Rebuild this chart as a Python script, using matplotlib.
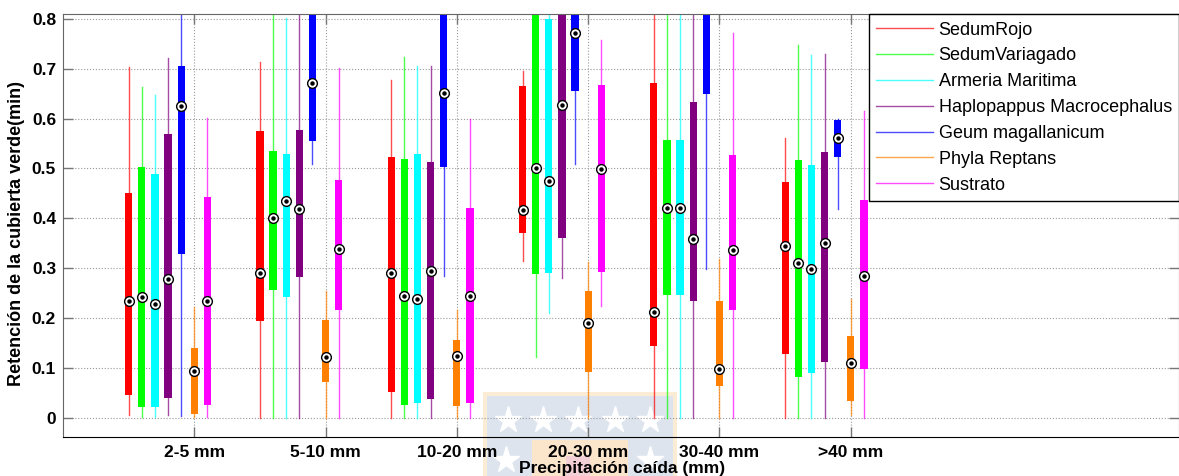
import numpy as np
import matplotlib
matplotlib.use("Agg")
import matplotlib.pyplot as plt
from matplotlib.lines import Line2D
from matplotlib.patches import Rectangle

plt.rcParams['font.family'] = ['Liberation Sans', 'DejaVu Sans']

groups = ["2-5 mm", "5-10 mm", "10-20 mm", "20-30 mm", "30-40 mm", ">40 mm"]
species = ["SedumRojo", "SedumVariagado", "Armeria Maritima", "Haplopappus Macrocephalus",
           "Geum magallanicum", "Phyla Reptans", "Sustrato"]
colors = ["#ff0000", "#00ff00", "#00ffff", "#800080", "#0000ff", "#ff8000", "#ff00ff"]

# one row per rainfall group, one column per species
whis_lo = [[0.005, 0.002, 0.002, 0.005, 0.003, 0.002, 0.002],
           [0.0, 0.0, 0.0, 0.0, 0.508, 0.0, 0.0],
           [0.0, 0.0, 0.0, 0.0, 0.284, 0.0, 0.0],
           [0.315, 0.121, 0.211, 0.280, 0.508, 0.0, 0.224],
           [0.0, 0.0, 0.0, 0.0, 0.299, 0.0, 0.0],
           [0.0, 0.0, 0.0, 0.0, 0.418, 0.005, 0.0]]
q1 = [[0.045, 0.022, 0.021, 0.039, 0.328, 0.007, 0.025],
      [0.195, 0.256, 0.243, 0.282, 0.554, 0.072, 0.217],
      [0.051, 0.025, 0.029, 0.037, 0.502, 0.023, 0.030],
      [0.371, 0.288, 0.291, 0.361, 0.656, 0.092, 0.292],
      [0.144, 0.246, 0.246, 0.234, 0.650, 0.064, 0.217],
      [0.127, 0.082, 0.090, 0.111, 0.522, 0.034, 0.097]]
median = [[0.235, 0.243, 0.228, 0.278, 0.625, 0.094, 0.234],
          [0.290, 0.400, 0.434, 0.419, 0.671, 0.122, 0.338],
          [0.290, 0.245, 0.239, 0.295, 0.651, 0.124, 0.244],
          [0.417, 0.500, 0.474, 0.627, 0.771, 0.190, 0.498],
          [0.213, 0.421, 0.421, 0.359, 0.850, 0.098, 0.336],
          [0.344, 0.310, 0.298, 0.351, 0.561, 0.110, 0.285]]
q3 = [[0.450, 0.502, 0.489, 0.569, 0.706, 0.140, 0.442],
      [0.574, 0.535, 0.528, 0.577, 0.900, 0.197, 0.477],
      [0.523, 0.519, 0.528, 0.512, 0.900, 0.156, 0.421],
      [0.666, 0.850, 0.799, 0.850, 0.900, 0.254, 0.667],
      [0.672, 0.557, 0.557, 0.633, 0.900, 0.235, 0.526],
      [0.472, 0.516, 0.506, 0.532, 0.597, 0.163, 0.437]]
whis_hi = [[0.704, 0.663, 0.647, 0.722, 0.850, 0.223, 0.602],
           [0.714, 0.850, 0.801, 0.850, 0.950, 0.255, 0.701],
           [0.678, 0.723, 0.706, 0.706, 0.950, 0.217, 0.599],
           [0.696, 0.900, 0.850, 0.900, 0.950, 0.313, 0.757],
           [0.850, 0.850, 0.850, 0.850, 0.950, 0.318, 0.771],
           [0.561, 0.748, 0.728, 0.729, 0.599, 0.238, 0.616]]

W, H = 1179, 476
fig = plt.figure(figsize=(W / 100, H / 100), dpi=100)
ax = fig.add_axes([63 / W, 1 - 436.7 / H, (W - 63) / W, (436.7 - 14.3) / H])
ax.set_facecolor("none")

# watermark in the background (university logo)
def px_rect(x0, y0, x1, y1, c):
    fig.add_artist(Rectangle((x0 / W, 1 - y1 / H), (x1 - x0) / W, (y1 - y0) / H,
                             transform=fig.transFigure, color=c, lw=0, zorder=-2))

px_rect(483, 392, 677, 476, "#fbecd6")
px_rect(487, 396, 673, 476, "#dde4ee")
px_rect(532, 440, 628, 476, "#fbe6cc")
px_rect(566, 456, 590, 476, "#f3d0d6")
for sx, sy in [(508, 420), (543, 420), (578, 420), (615, 420), (650, 420), (506, 460), (650, 460)]:
    fig.add_artist(Line2D([sx / W], [1 - sy / H], transform=fig.transFigure, marker="*",
                          ms=20, color="white", mec="white", zorder=-1))

ngroup = len(groups)
nsp = len(species)
for k in range(nsp):
    pos = [g * 10 + k for g in range(ngroup)]
    stats = []
    for g in range(ngroup):
        stats.append(dict(whislo=whis_lo[g][k], q1=q1[g][k], med=median[g][k],
                          q3=q3[g][k], whishi=whis_hi[g][k], fliers=[]))
    ax.bxp(stats, positions=pos, widths=0.55, patch_artist=True, showcaps=False,
           showfliers=False, manage_ticks=False,
           boxprops=dict(facecolor=colors[k], edgecolor=colors[k], linewidth=0),
           whiskerprops=dict(color=colors[k], linewidth=1.0, alpha=0.7),
           medianprops=dict(visible=False))
    meds = [median[g][k] for g in range(ngroup)]
    ax.plot(pos, meds, "o", ms=7, mfc="white", mec="black", mew=1.0, zorder=5)
    ax.plot(pos, meds, "o", ms=2.2, color="black", zorder=6)

ax.set_xlim(-5, 80)
ax.set_ylim(-0.038, 0.809)
ax.set_xticks([g * 10 + 5 for g in range(ngroup)])
ax.set_xticklabels(groups, fontweight="bold", fontsize=12.5)
yt = np.arange(0, 0.81, 0.1)
ax.set_yticks(yt)
ax.set_yticklabels(["0"] + ["%.1f" % v for v in yt[1:]], fontweight="bold", fontsize=12.5)
ax.tick_params(direction="in", length=7, width=1, color="#777777", top=True, right=True)
ax.tick_params(axis="y", pad=5)
ax.tick_params(axis="x", pad=6)
ax.grid(True, ls=":", color="#999999", lw=0.8)
ax.set_axisbelow(True)
for s in ["left", "top", "right"]:
    ax.spines[s].set_color("#666666")
ax.spines["bottom"].set_color("black")

ax.set_ylabel("Retención de la cubierta verde(min)", fontweight="bold", fontsize=13)
ax.yaxis.set_label_coords(-0.034, 0.482)
ax.set_xlabel("Precipitación caída (mm)", fontweight="bold", fontsize=12.5)
ax.xaxis.set_label_coords(0.501, -0.0575)

handles = [Line2D([], [], color=c, lw=1.0, alpha=0.7) for c in colors]
leg = ax.legend(handles, species, loc="upper right", bbox_to_anchor=(1, 1), borderaxespad=0,
                fancybox=False, framealpha=1, edgecolor="black", fontsize=13,
                handlelength=3.15, handletextpad=0.3, labelspacing=0.49, borderpad=0.4)
leg.get_frame().set_linewidth(1.0)

fig.savefig("out.png", dpi=100)
